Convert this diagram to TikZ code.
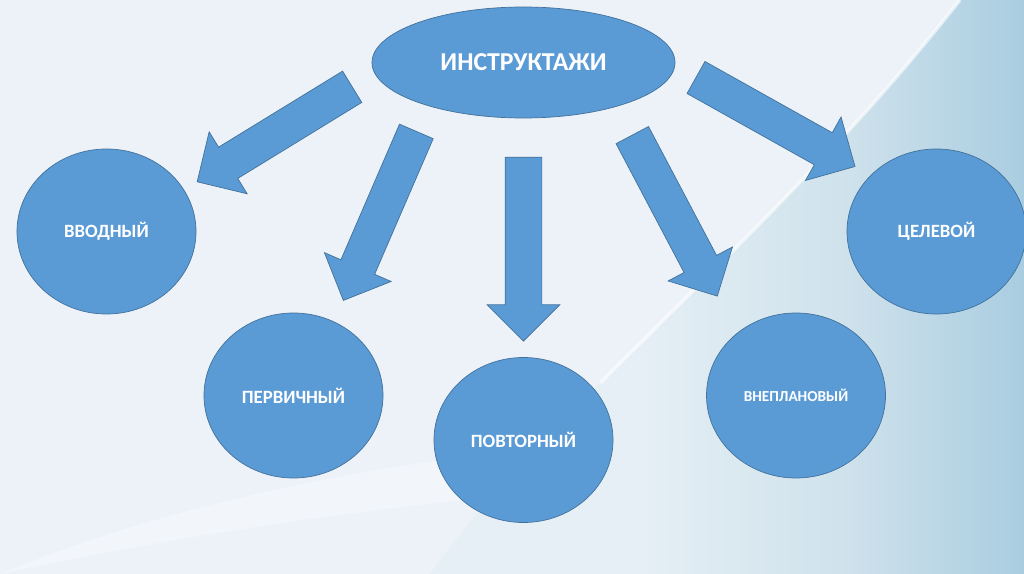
\documentclass[tikz,border=0pt]{standalone}
\usepackage{fontspec}
\setmainfont{Carlito}
\usetikzlibrary{calc,shapes.geometric,shapes.arrows}
\definecolor{boxfill}{HTML}{5B9BD5}
\definecolor{boxline}{HTML}{41719C}
\definecolor{bgbase}{HTML}{EDF2F8}
\definecolor{bgdeep}{HTML}{A9CDE0}
\definecolor{bgmid}{HTML}{CFE2EC}
\definecolor{bglight}{HTML}{E6EFF5}
\pgfdeclarehorizontalshading{bgshade}{100bp}{color(0bp)=(bglight); color(25bp)=(bglight); color(42bp)=(bglight); color(60bp)=(bgmid); color(75bp)=(bgdeep); color(100bp)=(bgdeep)}
\tikzset{
	topbox/.style={ellipse, draw=boxline, fill=boxfill, line width=0.6pt, minimum width=90.9mm, minimum height=33.3mm, inner sep=0pt, text=white, font=\bfseries\fontsize{22}{24}\selectfont},
	kindbox/.style={ellipse, draw=boxline, fill=boxfill, line width=0.6pt, minimum width=53.7mm, minimum height=49.5mm, inner sep=0pt, text=white, font=\bfseries\fontsize{16}{18}\selectfont},
	blockarrow/.style={single arrow, draw=boxline, fill=boxfill, line width=0.6pt, inner xsep=0pt, inner ysep=5.4mm, single arrow head extend=5.4mm, single arrow tip angle=90}
}
% block arrow #1 from coordinate #2 to coordinate #3
\newcommand{\blockarr}[3]{\path let \p1=($(#3)-(#2)$), \n1={atan2(\y1,\x1)}, \n2={veclen(\x1,\y1)} in node[blockarrow, minimum height=\n2, rotate=\n1] (#1) at ($(#2)!0.5!(#3)$) {};}

\begin{document}
\begin{tikzpicture}[x=0.3mm, y=-0.3mm]
			%%%%% BACKGROUND %%%%%
			\useasboundingbox (0, 0) rectangle (1024, 574);
			\fill[bgbase] (0, 0) rectangle (1024, 574);
			\fill[white, opacity=0.3] (0, 574) .. controls (250, 470) and (600, 420) .. (1024, 430) -- (1024, 470) .. controls (600, 470) and (250, 520) .. (0, 574) -- cycle;
			\shade[shading=bgshade] (960, 0) .. controls (860, 127) and (767, 217) .. (600, 383) .. controls (520, 460) and (470, 520) .. (430, 574) -- (1024, 574) -- (1024, 0) -- cycle;
			\draw[white, line width=3pt, opacity=0.6] (960, 0) .. controls (860, 127) and (767, 217) .. (600, 383);
			
			%%%%% NODES %%%%%
			\node[topbox] (instr) at (523.5, 62.5) {ИНСТРУКТАЖИ};
			
			\node[kindbox] (vvod) at (106.5, 231.5) {ВВОДНЫЙ};
			\node[kindbox] (perv) at (293.5, 395.5) {ПЕРВИЧНЫЙ};
			\node[kindbox] (povt) at (523.5, 440) {ПОВТОРНЫЙ};
			\node[kindbox, font=\bfseries\fontsize{13}{15}\selectfont] (vnepl) at (796, 395.5) {ВНЕПЛАНОВЫЙ};
			\node[kindbox] (cel) at (936.5, 231.5) {ЦЕЛЕВОЙ};
			
			%%%%% ARROWS %%%%%
			\coordinate (t1) at (360, 82);    \coordinate (h1) at (205, 177);
			\coordinate (t2) at (420, 123);   \coordinate (h2) at (347, 292);
			\coordinate (t3) at (523.5, 148); \coordinate (h3) at (523.5, 332);
			\coordinate (t4) at (628, 127);   \coordinate (h4) at (713, 288);
			\coordinate (t5) at (688, 73);    \coordinate (h5) at (847, 162);
			
			\blockarr{a1}{t1}{h1}
			\blockarr{a2}{t2}{h2}
			\blockarr{a3}{t3}{h3}
			\blockarr{a4}{t4}{h4}
			\blockarr{a5}{t5}{h5}
			
\end{tikzpicture}
\end{document}
